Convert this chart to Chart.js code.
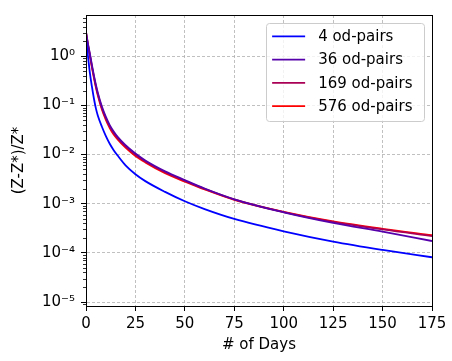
<!DOCTYPE html>
<html>
<head>
<meta charset="utf-8">
<script src="https://cdn.jsdelivr.net/npm/chart.js@4"></script>
<style>
html, body { margin: 0; padding: 0; background: #fff; }
</style>
</head>
<body>
<canvas id="gapChart" width="452" height="361"></canvas>
<script>
// values
const days = [0, 1, 2, 3, 4, 5, 6, 8, 10, 12, 14, 16, 20, 25, 30, 40, 50, 60, 75, 100, 125, 150, 175];
const gap4 = [2.24, 1.0, 0.447, 0.240, 0.138, 0.0871, 0.0617, 0.0372, 0.0240, 0.0166, 0.0123, 0.00955, 0.00603, 0.00398, 0.00288, 0.00174, 0.00112, 0.000776, 0.000490, 0.000275, 0.000170, 0.000115, 0.0000813];
const gap36 = [3.16, 1.78, 1.10, 0.661, 0.407, 0.263, 0.178, 0.0955, 0.0589, 0.0398, 0.0295, 0.0229, 0.0155, 0.0105, 0.00759, 0.00457, 0.00302, 0.00204, 0.00123, 0.000668, 0.000407, 0.000269, 0.000174];
const gap169 = [3.09, 1.72, 1.05, 0.624, 0.385, 0.248, 0.168, 0.0891, 0.0550, 0.0372, 0.0275, 0.0216, 0.0146, 0.00989, 0.00724, 0.00437, 0.00292, 0.00200, 0.00122, 0.000676, 0.000427, 0.000299, 0.000219];
const gap576 = [3.02, 1.66, 1.0, 0.589, 0.363, 0.234, 0.158, 0.0832, 0.0513, 0.0347, 0.0257, 0.0204, 0.0138, 0.00933, 0.00692, 0.00417, 0.00282, 0.00195, 0.00120, 0.000684, 0.000437, 0.000309, 0.000229];

const seriesLabels = ['4 od-pairs', '36 od-pairs', '169 od-pairs', '576 od-pairs'];
const seriesColors = ['#0000ff', '#5500aa', '#aa0055', '#ff0000'];
const xTicks = [0, 25, 50, 75, 100, 125, 150, 175];
const yTicks = [1e-5, 1e-4, 1e-3, 1e-2, 1e-1, 1];

const FONT = 'DejaVu Sans';
const sup = { '0': '⁰', '1': '¹', '2': '²', '3': '³', '4': '⁴', '5': '⁵', '6': '⁶', '7': '⁷', '8': '⁸', '9': '⁹', '-': '⁻' };

function pow10Label(v) {
    const e = String(Math.round(Math.log10(v)));
    return '10' + e.split('').map(c => sup[c]).join('');
}

function makeSeries(values, i) {
    return {
        label: seriesLabels[i],
        data: days.map((d, k) => ({ x: d, y: values[k] })),
        borderColor: seriesColors[i],
        backgroundColor: seriesColors[i],
        borderWidth: 1.8,
        pointRadius: 0,
        cubicInterpolationMode: 'monotone',
        fill: false
    };
}

// box round the axes plus the small log ticks
const framePlugin = {
    id: 'frame',
    afterDraw(chart) {
        const ctx = chart.ctx;
        const a = chart.chartArea;
        const y = chart.scales.y;
        ctx.save();
        ctx.strokeStyle = '#000';
        ctx.lineWidth = 1;
        ctx.strokeRect(Math.round(a.left) + 0.5, Math.round(a.top) + 0.5,
            Math.round(a.right - a.left), Math.round(a.bottom - a.top));
        ctx.lineWidth = 0.8;
        ctx.beginPath();
        for (let k = -6; k <= 1; k++) {
            for (let m = 2; m <= 9; m++) {
                const v = m * Math.pow(10, k);
                if (v < y.min || v > y.max) continue;
                const py = Math.round(y.getPixelForValue(v)) + 0.5;
                ctx.moveTo(a.left, py);
                ctx.lineTo(a.left - 3, py);
            }
        }
        ctx.stroke();
        ctx.restore();
    }
};

// legend in the upper right corner, like matplotlib
const boxLegend = {
    id: 'boxLegend',
    afterDraw(chart) {
        const ctx = chart.ctx;
        const a = chart.chartArea;
        const sets = chart.data.datasets;
        ctx.save();
        ctx.font = '15px "' + FONT + '"';
        const textW = Math.max(...sets.map(s => ctx.measureText(s.label).width));
        const w = 52 + textW + 11.5;
        const rowH = 23.3;
        const h = sets.length * rowH + 5;
        const x0 = a.right - 8 - w;
        const y0 = a.top + 8;
        ctx.fillStyle = 'rgba(255,255,255,0.8)';
        ctx.strokeStyle = '#cccccc';
        ctx.lineWidth = 1;
        ctx.beginPath();
        ctx.roundRect(Math.round(x0) + 0.5, Math.round(y0) + 0.5, Math.round(w), Math.round(h), 3);
        ctx.fill();
        ctx.stroke();
        sets.forEach((s, i) => {
            const cy = y0 + 13.3 + i * rowH;
            ctx.strokeStyle = s.borderColor;
            ctx.lineWidth = 1.8;
            ctx.beginPath();
            ctx.moveTo(x0 + 6, cy);
            ctx.lineTo(x0 + 39, cy);
            ctx.stroke();
            ctx.fillStyle = '#000';
            ctx.textBaseline = 'middle';
            ctx.fillText(s.label, x0 + 52, cy + 1);
        });
        ctx.restore();
    }
};

const ctx = document.getElementById('gapChart').getContext('2d');
new Chart(ctx, {
    type: 'line',
    data: {
        datasets: [
            makeSeries(gap4, 0),
            makeSeries(gap36, 1),
            makeSeries(gap169, 2),
            makeSeries(gap576, 3)
        ]
    },
    options: {
        responsive: false,
        animation: false,
        layout: { padding: { top: 7, right: 20, left: 0, bottom: 0 } },
        plugins: {
            legend: { display: false },
            tooltip: { enabled: false }
        },
        scales: {
            x: {
                type: 'linear',
                min: 0,
                max: 175,
                afterFit(scale) { scale.height = 55; },
                afterBuildTicks(scale) { scale.ticks = xTicks.map(v => ({ value: v })); },
                ticks: {
                    color: '#000',
                    padding: 4,
                    maxRotation: 0,
                    font: { family: FONT, size: 15 }
                },
                grid: {
                    color: '#b0b0b0',
                    lineWidth: 0.8,
                    tickColor: '#000',
                    tickLength: 5,
                    tickWidth: 1
                },
                border: { color: '#000', width: 1, dash: [3, 2] },
                title: {
                    display: true,
                    text: '# of Days',
                    color: '#000',
                    font: { family: FONT, size: 15 },
                    padding: { top: 0, bottom: 7 }
                }
            },
            y: {
                type: 'logarithmic',
                min: 8.3e-6,
                max: 6.9,
                afterFit(scale) { scale.width = 86; },
                afterBuildTicks(scale) { scale.ticks = yTicks.map(v => ({ value: v })); },
                ticks: {
                    color: '#000',
                    padding: 6,
                    font: { family: FONT, size: 15 },
                    callback: v => pow10Label(v)
                },
                grid: {
                    color: '#b0b0b0',
                    lineWidth: 0.8,
                    tickColor: '#000',
                    tickLength: 5,
                    tickWidth: 1
                },
                border: { color: '#000', width: 1, dash: [3, 2] },
                title: {
                    display: true,
                    text: '(Z-Z*)/Z*',
                    color: '#000',
                    font: { family: FONT, size: 15 },
                    padding: { top: 10, bottom: 0 }
                }
            }
        }
    },
    plugins: [framePlugin, boxLegend]
});
</script>
</body>
</html>
